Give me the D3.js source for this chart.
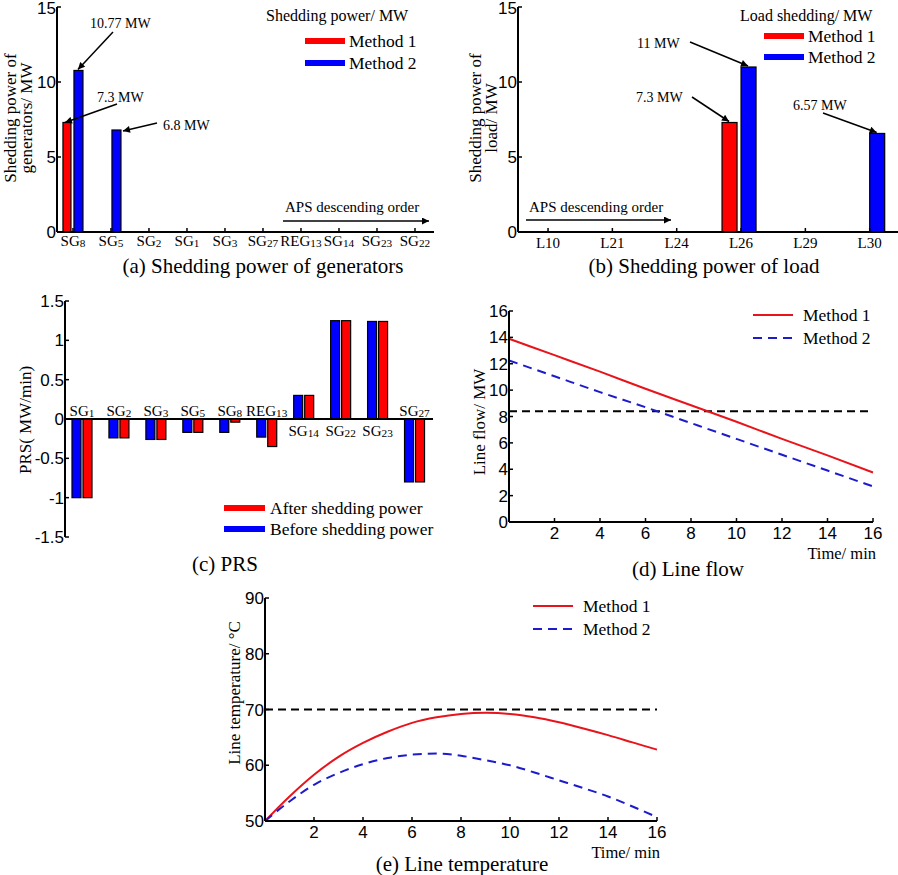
<!DOCTYPE html>
<html>
<head>
<meta charset="utf-8">
<script src="https://cdn.jsdelivr.net/npm/d3@7/dist/d3.min.js"></script>
<style>
body { margin: 0; background: #fff; }
text { font-family: "Liberation Serif", "Times New Roman", serif; fill: #000; }
.num { font-family: "Liberation Sans", Arial, sans-serif; font-size: 17px; }
</style>
</head>
<body>
<div id="chart"></div>
<script>
// (a) generators
var genNames = ["SG|8", "SG|5", "SG|2", "SG|1", "SG|3", "SG|27", "REG|13", "SG|14", "SG|23", "SG|22"];
var genM1 = [7.3, 0, 0, 0, 0, 0, 0, 0, 0, 0];
var genM2 = [10.77, 6.8, 0, 0, 0, 0, 0, 0, 0, 0];
// (b) loads
var loadNames = ["L10", "L21", "L24", "L26", "L29", "L30"];
var loadM1 = [0, 0, 0, 7.3, 0, 0];
var loadM2 = [0, 0, 0, 11, 0, 6.57];
// (c) PRS
var prsNames = ["SG|1", "SG|2", "SG|3", "SG|5", "SG|8", "REG|13", "SG|14", "SG|22", "SG|23", "SG|27"];
var prsBefore = [-1, -0.24, -0.26, -0.17, -0.17, -0.23, 0.3, 1.25, 1.24, -0.8];
var prsAfter = [-1, -0.24, -0.26, -0.17, -0.04, -0.35, 0.3, 1.25, 1.24, -0.8];
// (d) line flow
var flowT = [0, 2, 4, 6, 8, 10, 12, 14, 16];
var flowM1 = [13.9, 12.65, 11.4, 10.1, 8.85, 7.6, 6.3, 5.05, 3.75];
var flowM2 = [12.25, 11.05, 9.85, 8.7, 7.5, 6.3, 5.1, 3.9, 2.7];
var flowLimit = 8.4;
// (e) line temperature
var tempT = [0, 1, 2, 3, 4, 5, 6, 7, 8, 9, 10, 11, 12, 13, 14, 15, 16];
var tempM1 = [50, 54.4, 58.3, 61.5, 64, 66, 67.6, 68.6, 69.2, 69.4, 69.2, 68.6, 67.7, 66.6, 65.4, 64.1, 62.8];
var tempM2 = [50, 53.5, 56.5, 58.6, 60.2, 61.3, 61.9, 62.1, 61.7, 60.9, 60, 58.7, 57.3, 55.9, 54.4, 52.6, 50.7];
var tempLimit = 70;
var timeTicks = [2, 4, 6, 8, 10, 12, 14, 16];

var RED = "#ff0000", BLUE = "#0000ff";

var svg = d3.select("#chart").append("svg")
    .attr("width", 898)
    .attr("height", 875);

svg.append("defs").append("marker")
    .attr("id", "arr")
    .attr("viewBox", "0 0 10 10")
    .attr("refX", 10).attr("refY", 5)
    .attr("markerWidth", 9).attr("markerHeight", 7)
    .attr("markerUnits", "userSpaceOnUse")
    .attr("orient", "auto")
  .append("path")
    .attr("d", "M0,0L10,5L0,10Z");

function axisLines(g, x0, x1, y0, yTop, yBase) {
    g.append("line").attr("x1", x0).attr("x2", x0).attr("y1", yTop).attr("y2", yBase)
        .attr("stroke", "#000").attr("stroke-width", 2);
    g.append("line").attr("x1", x0).attr("x2", x1).attr("y1", y0).attr("y2", y0)
        .attr("stroke", "#000").attr("stroke-width", 2);
}

function yTicks(g, y, x0, ticks) {
    ticks.forEach(function (t) {
        g.append("line").attr("x1", x0).attr("x2", x0 + 4).attr("y1", y(t)).attr("y2", y(t))
            .attr("stroke", "#000").attr("stroke-width", 1.5);
        g.append("text").attr("class", "num")
            .attr("x", x0 - 1).attr("y", Math.max(y(t) + 6, 14))
            .attr("text-anchor", "end")
            .text(t);
    });
}

// label with subscript after "|"
function subLabel(sel, s, size) {
    var p = s.split("|");
    sel.append("tspan").text(p[0]);
    if (p[1]) sel.append("tspan").attr("font-size", size * 0.75).attr("dy", 1).text(p[1]);
}

function yTitle(g, x, cy, lines) {
    var t = g.append("text")
        .attr("transform", "translate(" + x + "," + cy + ") rotate(-90)")
        .attr("text-anchor", "middle")
        .attr("font-size", 17);
    lines.forEach(function (l, i) {
        t.append("tspan").attr("x", 0).attr("dy", i == 0 ? 0 : 16).text(l);
    });
}

function arrow(g, x1, y1, x2, y2) {
    g.append("line").attr("x1", x1).attr("y1", y1).attr("x2", x2).attr("y2", y2)
        .attr("stroke", "#000").attr("stroke-width", 1.5)
        .attr("marker-end", "url(#arr)");
}

function caption(g, x, y, s) {
    g.append("text").attr("x", x).attr("y", y).attr("text-anchor", "middle")
        .attr("font-size", 21).text(s);
}

function bars(g, x, y, vals, off, w, color) {
    g.selectAll(null)
        .data(vals.map(function (v, i) { return { i: i, v: v }; }).filter(function (d) { return d.v != 0; }))
        .enter().append("rect")
        .attr("x", function (d) { return x(d.i) + off; })
        .attr("width", w)
        .attr("y", function (d) { return Math.min(y(d.v), y(0)); })
        .attr("height", function (d) { return Math.abs(y(d.v) - y(0)); })
        .attr("fill", color)
        .attr("stroke", "#000")
        .attr("stroke-width", 1.2);
}

// ---------- (a) ----------
var ga = svg.append("g");
var xa = d3.scaleLinear().domain([-0.42, 9.5]).range([57, 434]);
var ya = d3.scaleLinear().domain([0, 15]).range([232, 7]);
bars(ga, xa, ya, genM1, -10, 8, RED);
bars(ga, xa, ya, genM2, 1, 9, BLUE);
axisLines(ga, 57, 434, 232, 7, 232);
yTicks(ga, ya, 57, [0, 5, 10, 15]);
genNames.forEach(function (n, i) {
    ga.append("line").attr("x1", xa(i)).attr("x2", xa(i)).attr("y1", 232).attr("y2", 228)
        .attr("stroke", "#000").attr("stroke-width", 1.5);
    subLabel(ga.append("text").attr("x", xa(i)).attr("y", 246).attr("text-anchor", "middle")
        .attr("font-size", 15), n, 15);
});
yTitle(ga, 16, 118, ["Shedding power of", "generators/ MW"]);
ga.append("text").attr("x", 90).attr("y", 28).attr("font-size", 14).text("10.77 MW");
arrow(ga, 113, 32, xa(0) + 5, ya(genM2[0]) - 1);
ga.append("text").attr("x", 97).attr("y", 102).attr("font-size", 14).text("7.3 MW");
arrow(ga, 117, 104, xa(0) - 8, ya(genM1[0]));
ga.append("text").attr("x", 163).attr("y", 130).attr("font-size", 14).text("6.8 MW");
arrow(ga, 157, 123, xa(1) + 12, ya(genM2[1]) + 1);
ga.append("text").attr("x", 285).attr("y", 212).attr("font-size", 15).text("APS descending order");
arrow(ga, 283, 221, 429, 221);
ga.append("text").attr("x", 266).attr("y", 21).attr("font-size", 16).text("Shedding power/ MW");
[["Method 1", RED], ["Method 2", BLUE]].forEach(function (d, i) {
    var yy = 41 + i * 22;
    ga.append("line").attr("x1", 305).attr("x2", 345).attr("y1", yy).attr("y2", yy)
        .attr("stroke", d[1]).attr("stroke-width", 6);
    ga.append("text").attr("x", 349).attr("y", yy + 6).attr("font-size", 17.5).text(d[0]);
});
caption(ga, 263, 273, "(a) Shedding power of generators");

// ---------- (b) ----------
var gb = svg.append("g");
var xb = d3.scaleLinear().domain([-0.467, 5.44]).range([518, 898]);
var yb = d3.scaleLinear().domain([0, 15]).range([232, 7]);
bars(gb, xb, yb, loadM1, -19, 15, RED);
bars(gb, xb, yb, loadM2, 0, 15, BLUE);
axisLines(gb, 518, 898, 232, 7, 232);
yTicks(gb, yb, 518, [0, 5, 10, 15]);
loadNames.forEach(function (n, i) {
    gb.append("line").attr("x1", xb(i)).attr("x2", xb(i)).attr("y1", 232).attr("y2", 228)
        .attr("stroke", "#000").attr("stroke-width", 1.5);
    gb.append("text").attr("x", xb(i)).attr("y", 248).attr("text-anchor", "middle")
        .attr("font-size", 15).text(n);
});
yTitle(gb, 481, 118, ["Shedding power of", "load/ MW"]);
gb.append("text").attr("x", 637).attr("y", 48).attr("font-size", 14).text("11 MW");
arrow(gb, 690, 42, xb(3) + 7, yb(loadM2[3]) - 1);
gb.append("text").attr("x", 636).attr("y", 102).attr("font-size", 14).text("7.3 MW");
arrow(gb, 692, 97, xb(3) - 12, yb(loadM1[3]) - 1);
gb.append("text").attr("x", 793).attr("y", 110).attr("font-size", 14).text("6.57 MW");
arrow(gb, 823, 113, xb(5) + 7, yb(loadM2[5]) - 1);
gb.append("text").attr("x", 529).attr("y", 212).attr("font-size", 15).text("APS descending order");
arrow(gb, 526, 220, 671, 220);
gb.append("text").attr("x", 740).attr("y", 21).attr("font-size", 16).text("Load shedding/ MW");
[["Method 1", RED], ["Method 2", BLUE]].forEach(function (d, i) {
    var yy = 36 + i * 21;
    gb.append("line").attr("x1", 764).attr("x2", 804).attr("y1", yy).attr("y2", yy)
        .attr("stroke", d[1]).attr("stroke-width", 6);
    gb.append("text").attr("x", 808).attr("y", yy + 6).attr("font-size", 17.5).text(d[0]);
});
caption(gb, 704, 273, "(b) Shedding power of load");

// ---------- (c) ----------
var gc = svg.append("g");
var xc = d3.scaleLinear().domain([-0.46, 9.5]).range([65, 433]);
var yc = d3.scaleLinear().domain([-1.5, 1.5]).range([537, 301]);
bars(gc, xc, yc, prsBefore, -10, 9, BLUE);
bars(gc, xc, yc, prsAfter, 1, 9, RED);
axisLines(gc, 65, 433, yc(0), 301, 537);
yTicks(gc, yc, 65, [-1.5, -1, -0.5, 0, 0.5, 1, 1.5]);
prsNames.forEach(function (n, i) {
    var pos = prsBefore[i] > 0;
    subLabel(gc.append("text").attr("x", xc(i)).attr("y", pos ? 436 : 416).attr("text-anchor", "middle")
        .attr("font-size", 15), n, 15);
});
yTitle(gc, 31, 420, ["PRS( MW/min)"]);
[["After shedding power", RED], ["Before shedding power", BLUE]].forEach(function (d, i) {
    var yy = 508 + i * 21;
    gc.append("line").attr("x1", 224).attr("x2", 265).attr("y1", yy).attr("y2", yy)
        .attr("stroke", d[1]).attr("stroke-width", 6);
    gc.append("text").attr("x", 270).attr("y", yy + 6).attr("font-size", 17.5).text(d[0]);
});
caption(gc, 225, 571, "(c) PRS");

// ---------- line panels ----------
function linePanel(g, x, y, tx, m1, m2, limit, yt) {
    var r = x.range(), d = y.range();
    var line = d3.line()
        .x(function (p) { return x(p[0]); })
        .y(function (p) { return y(p[1]); })
        .curve(d3.curveMonotoneX);
    g.append("line").attr("x1", r[0]).attr("x2", r[1]).attr("y1", y(limit)).attr("y2", y(limit))
        .attr("stroke", "#000").attr("stroke-width", 2).attr("stroke-dasharray", "8,5");
    g.append("path").datum(tx.map(function (t, i) { return [t, m1[i]]; }))
        .attr("d", line).attr("fill", "none").attr("stroke", "#e8141c").attr("stroke-width", 2);
    g.append("path").datum(tx.map(function (t, i) { return [t, m2[i]]; }))
        .attr("d", line).attr("fill", "none").attr("stroke", "#1c1ccc").attr("stroke-width", 2)
        .attr("stroke-dasharray", "9,6");
    axisLines(g, r[0], r[1], d[0], d[1], d[0]);
    yTicks(g, y, r[0], yt);
    timeTicks.forEach(function (t) {
        g.append("line").attr("x1", x(t)).attr("x2", x(t)).attr("y1", d[0]).attr("y2", d[0] - 4)
            .attr("stroke", "#000").attr("stroke-width", 1.5);
        g.append("text").attr("class", "num").attr("x", x(t)).attr("y", d[0] + 17)
            .attr("text-anchor", "middle").text(t);
    });
}

function lineLegend(g, x0, y0) {
    [["Method 1", "#e8141c", null], ["Method 2", "#1c1ccc", "9,6"]].forEach(function (d, i) {
        var yy = y0 + i * 23;
        g.append("line").attr("x1", x0).attr("x2", x0 + 40).attr("y1", yy).attr("y2", yy)
            .attr("stroke", d[1]).attr("stroke-width", 2).attr("stroke-dasharray", d[2]);
        g.append("text").attr("x", x0 + 50).attr("y", yy + 6).attr("font-size", 17.5).text(d[0]);
    });
}

// ---------- (d) ----------
var gd = svg.append("g");
var xd = d3.scaleLinear().domain([0, 16]).range([509, 873]);
var yd = d3.scaleLinear().domain([0, 16]).range([522, 311]);
linePanel(gd, xd, yd, flowT, flowM1, flowM2, flowLimit, [0, 2, 4, 6, 8, 10, 12, 14, 16]);
lineLegend(gd, 753, 315);
yTitle(gd, 485, 422, ["Line flow/ MW"]);
gd.append("text").attr("x", 876).attr("y", 559).attr("text-anchor", "end").attr("font-size", 16.5).text("Time/ min");
caption(gd, 688, 576, "(d) Line flow");

// ---------- (e) ----------
var ge = svg.append("g");
var xe = d3.scaleLinear().domain([0, 16]).range([265, 657]);
var ye = d3.scaleLinear().domain([50, 90]).range([821, 598]);
linePanel(ge, xe, ye, tempT, tempM1, tempM2, tempLimit, [50, 60, 70, 80, 90]);
lineLegend(ge, 533, 606);
yTitle(ge, 240, 693, ["Line temperature/ °C"]);
ge.append("text").attr("x", 660).attr("y", 858).attr("text-anchor", "end").attr("font-size", 16.5).text("Time/ min");
caption(ge, 462, 871, "(e) Line temperature");
</script>
</body>
</html>
